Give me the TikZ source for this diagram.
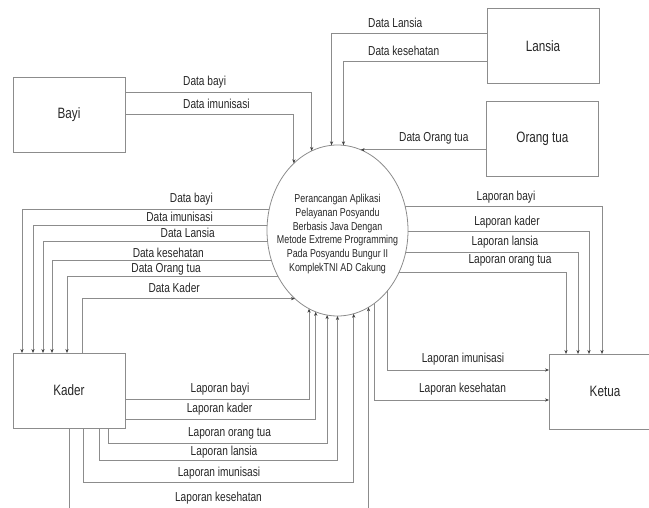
\documentclass[tikz,border=0pt]{standalone}
\usepackage{fontspec}
\setmainfont{Liberation Sans}[FakeStretch=0.78]
\usetikzlibrary{shapes.geometric, arrows.meta, positioning, calc}

\begin{document}
\begin{tikzpicture}[x=1pt, y=-1pt,
    ent/.style={draw=black!45, line width=0.8pt, minimum width=112pt, minimum height=75pt, inner sep=0pt, outer sep=0pt, font=\fontsize{15}{18}\selectfont, text=black!85},
    proc/.style={draw=black!45, line width=0.8pt, ellipse, minimum width=141pt, minimum height=171pt, inner sep=0pt, outer sep=0pt},
    proctext/.style={align=center, inner sep=0pt, font=\fontsize{11.4}{13.8}\selectfont, text=black!85},
    lbl/.style={inner sep=0pt, font=\fontsize{13}{15}\selectfont, text=black!85},
    arr/.style={draw=black!45, line width=0.8pt, -{Stealth[length=4pt, width=3.2pt, color=black!75]}},
    flow/.style={draw=black!45, line width=0.8pt}]
  \useasboundingbox (0,0) rectangle (649,508);
  \clip (0,0) rectangle (649,508);
  \node[proc] (proc) at (337.5,230.5) {};
  \node[proctext] (proctxt) at ([yshift=-3.5pt]proc.center) {Perancangan Aplikasi\\Pelayanan Posyandu\\Berbasis Java Dengan\\Metode Extreme Programming\\Pada Posyandu Bungur II\\KomplekTNI AD Cakung};
  \node[ent] (bayi)   at (69,114.5)  {Bayi};
  \node[ent] (lansia) at (543,46)    {Lansia};
  \node[ent] (ortu)   at (542.5,139) {Orang tua};
  \node[ent] (kader)  at (69,390.5)  {Kader};
  \node[ent] (ketua)  at (605,391.5) {Ketua};
  % data masuk
  \draw[arr] ([yshift=22.5pt]bayi.east) -| (proc.108);
  \draw[arr] (bayi.east) -| (proc.123);
  \draw[arr] ([yshift=13pt]lansia.west) -| (proc.94);
  \draw[arr] ([yshift=-15pt]lansia.west) -| (proc.86);
  \draw[arr] (ortu.west |- proc.74) -- (proc.74);
  \node[lbl, anchor=west] (l1) at (183,82)  {Data bayi};
  \node[lbl, anchor=west] (l2) at (183,104) {Data imunisasi};
  \node[lbl, anchor=west] (l3) at (368,23)  {Data Lansia};
  \node[lbl, anchor=west] (l4) at (368,51)  {Data kesehatan};
  \node[lbl, anchor=west] (l5) at (399,138) {Data Orang tua};
  % ke kader
  \draw[arr] (proc.163) -| ([xshift=-47pt]kader.north);
  \draw[arr] (proc.176) -| ([xshift=-36pt]kader.north);
  \draw[arr] (proc.189) -| ([xshift=-26pt]kader.north);
  \draw[arr] (proc.204) -| ([xshift=-17pt]kader.north);
  \draw[arr] (proc.218) -| ([xshift=-2pt]kader.north);
  \draw[arr] ([xshift=13pt]kader.north) |- (proc.238);
  \node[lbl, anchor=east] (k1) at (213,199) {Data bayi};
  \node[lbl, anchor=east] (k2) at (213,217) {Data imunisasi};
  \node[lbl, anchor=east] (k3) at (215,233) {Data Lansia};
  \node[lbl, anchor=east] (k4) at (204,253) {Data kesehatan};
  \node[lbl, anchor=east] (k5) at (201,269) {Data Orang tua};
  \node[lbl, anchor=east] (k6) at (200,288) {Data Kader};
  % ke ketua
  \draw[arr] (proc.20) -| ([xshift=-3pt]ketua.north);
  \draw[arr] (proc.359) -| ([xshift=-16pt]ketua.north);
  \draw[arr] (proc.342) -| ([xshift=-27pt]ketua.north);
  \draw[arr] (proc.326) -| ([xshift=-39pt]ketua.north);
  \draw[arr] (proc.310) |- ([yshift=21.5pt]ketua.west);
  \draw[arr] (proc.297) |- ([yshift=-8.5pt]ketua.west);
  \node[lbl] (r1) at (506,197) {Laporan bayi};
  \node[lbl] (r2) at (507,222) {Laporan kader};
  \node[lbl] (r3) at (505,242) {Laporan lansia};
  \node[lbl] (r4) at (510,260) {Laporan orang tua};
  \node[lbl] (r5) at (463,359) {Laporan imunisasi};
  \node[lbl] (r6) at (462.5,389) {Laporan kesehatan};
  % laporan kader
  \draw[arr] ([yshift=-8.5pt]kader.east) -| (proc.250);
  \draw[arr] ([yshift=-28.5pt]kader.east) -| (proc.255);
  \draw[arr] ([xshift=39pt]kader.south) -- ++(0,15) -| (proc.263);
  \draw[arr] ([xshift=30pt]kader.south) -- ++(0,32) -| (proc.270);
  \draw[arr] ([xshift=14pt]kader.south) -- ++(0,54) -| (proc.281);
  \draw[arr] (kader.south) -- ++(0,84) -| (proc.292);
  \node[lbl] (b1) at (220,389)   {Laporan bayi};
  \node[lbl] (b2) at (219.5,409) {Laporan kader};
  \node[lbl] (b3) at (229.5,433) {Laporan orang tua};
  \node[lbl] (b4) at (224,452)   {Laporan lansia};
  \node[lbl] (b5) at (219,473)   {Laporan imunisasi};
  \node[lbl] (b6) at (218.5,498) {Laporan kesehatan};
\end{tikzpicture}
\end{document}
